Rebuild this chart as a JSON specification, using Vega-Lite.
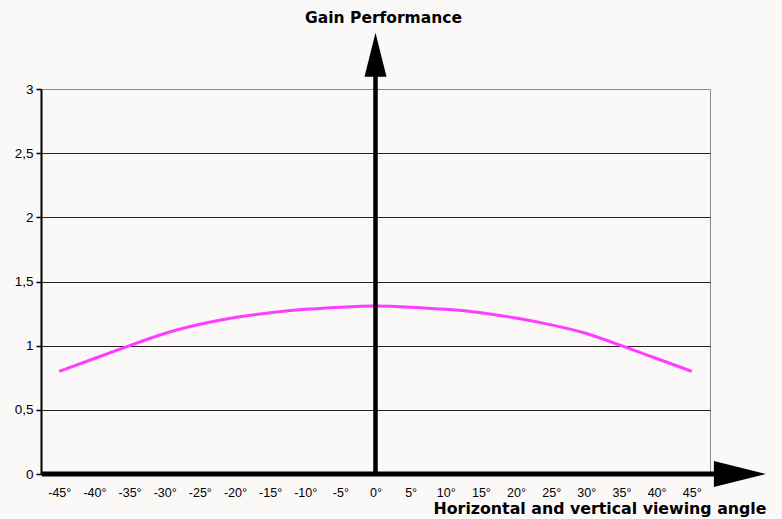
{
  "$schema": "https://vega.github.io/schema/vega-lite/v6.json",
  "width": 669,
  "height": 385,
  "autosize": {"type": "none"},
  "padding": {"left": 41, "top": 89, "right": 72, "bottom": 45},
  "background": "#fbf8f8",
  "config": {
    "view": {"stroke": "#8a8a8a", "strokeWidth": 1},
    "axis": {"labelFont": "Liberation Sans", "titleFont": "DejaVu Sans"}
  },
  "layer": [
    {
      "data": {"values": [
        {"angle": -45, "gain": 0.8},
        {"angle": -40, "gain": 0.9},
        {"angle": -35, "gain": 1.0},
        {"angle": -30, "gain": 1.095},
        {"angle": -25, "gain": 1.167},
        {"angle": -20, "gain": 1.22},
        {"angle": -15, "gain": 1.257},
        {"angle": -10, "gain": 1.283},
        {"angle": -5, "gain": 1.30},
        {"angle": 0, "gain": 1.31},
        {"angle": 5, "gain": 1.30},
        {"angle": 10, "gain": 1.283},
        {"angle": 15, "gain": 1.257},
        {"angle": 20, "gain": 1.215},
        {"angle": 25, "gain": 1.162},
        {"angle": 30, "gain": 1.095},
        {"angle": 35, "gain": 1.0},
        {"angle": 40, "gain": 0.9},
        {"angle": 45, "gain": 0.8}
      ]},
      "mark": {"type": "line", "color": "#ff3cff", "strokeWidth": 3, "interpolate": "natural"},
      "encoding": {
        "x": {
          "field": "angle", "type": "quantitative",
          "scale": {"domain": [-47.6, 47.6], "nice": false, "zero": false},
          "axis": {
            "values": [-45, -40, -35, -30, -25, -20, -15, -10, -5, 0, 5, 10, 15, 20, 25, 30, 35, 40, 45],
            "tickCount": 40,
            "labelExpr": "datum.value + '°'",
            "ticks": false, "domain": false, "grid": false,
            "labelFontSize": 12.5, "labelColor": "#000", "labelPadding": 12,
            "labelFlush": false, "labelOverlap": false,
            "title": "Horizontal and vertical viewing angle",
            "titleFontSize": 15.8, "titleFontWeight": "bold", "titleColor": "#000",
            "titleAlign": "right", "titleAnchor": null, "titleBaseline": "middle",
            "titleX": 725, "titleY": 34
          }
        },
        "y": {
          "field": "gain", "type": "quantitative",
          "scale": {"domain": [0, 3], "nice": false},
          "axis": {
            "values": [0, 0.5, 1, 1.5, 2, 2.5, 3],
            "tickCount": 20,
            "labelExpr": "replace(format(datum.value, '~g'), '.', ',')",
            "domainColor": "#000", "domainWidth": 2,
            "tickColor": "#000", "tickSize": 5, "tickWidth": 1.5,
            "labelFontSize": 13.5, "labelColor": "#000", "labelPadding": 3,
            "grid": true,
            "gridColor": {"condition": {"test": "datum.value == 3", "value": "#8a8a8a"}, "value": "#222"},
            "gridWidth": 1,
            "title": "Gain Performance",
            "titleFontSize": 15.5, "titleFontWeight": "bold", "titleColor": "#000",
            "titleAngle": 0, "titleAlign": "center", "titleAnchor": null, "titleBaseline": "middle",
            "titleX": 342, "titleY": -72
          }
        }
      }
    },
    {
      "data": {"values": [{}]},
      "mark": {"type": "rule", "color": "#000", "strokeWidth": 4.5},
      "encoding": {
        "x": {"datum": 0, "type": "quantitative"},
        "y": {"datum": 0, "type": "quantitative"},
        "y2": {"datum": 3.2}
      }
    },
    {
      "data": {"values": [{}]},
      "mark": {"type": "rule", "color": "#000", "strokeWidth": 5},
      "encoding": {
        "x": {"datum": -47.5, "type": "quantitative"},
        "x2": {"datum": 50},
        "y": {"datum": 0, "type": "quantitative"}
      }
    },
    {
      "data": {"values": [{}]},
      "mark": {"type": "point", "filled": true, "color": "#000", "opacity": 1, "shape": "M-0.5,1L0,-1L0.5,1Z", "size": 1936},
      "encoding": {
        "x": {"datum": 0, "type": "quantitative"},
        "y": {"datum": 3.266, "type": "quantitative"}
      }
    },
    {
      "data": {"values": [{}]},
      "mark": {"type": "point", "filled": true, "color": "#000", "opacity": 1, "shape": "M-1,-0.5L1,0L-1,0.5Z", "size": 2704},
      "encoding": {
        "x": {"datum": 51.85, "type": "quantitative"},
        "y": {"datum": 0, "type": "quantitative"}
      }
    }
  ]
}
